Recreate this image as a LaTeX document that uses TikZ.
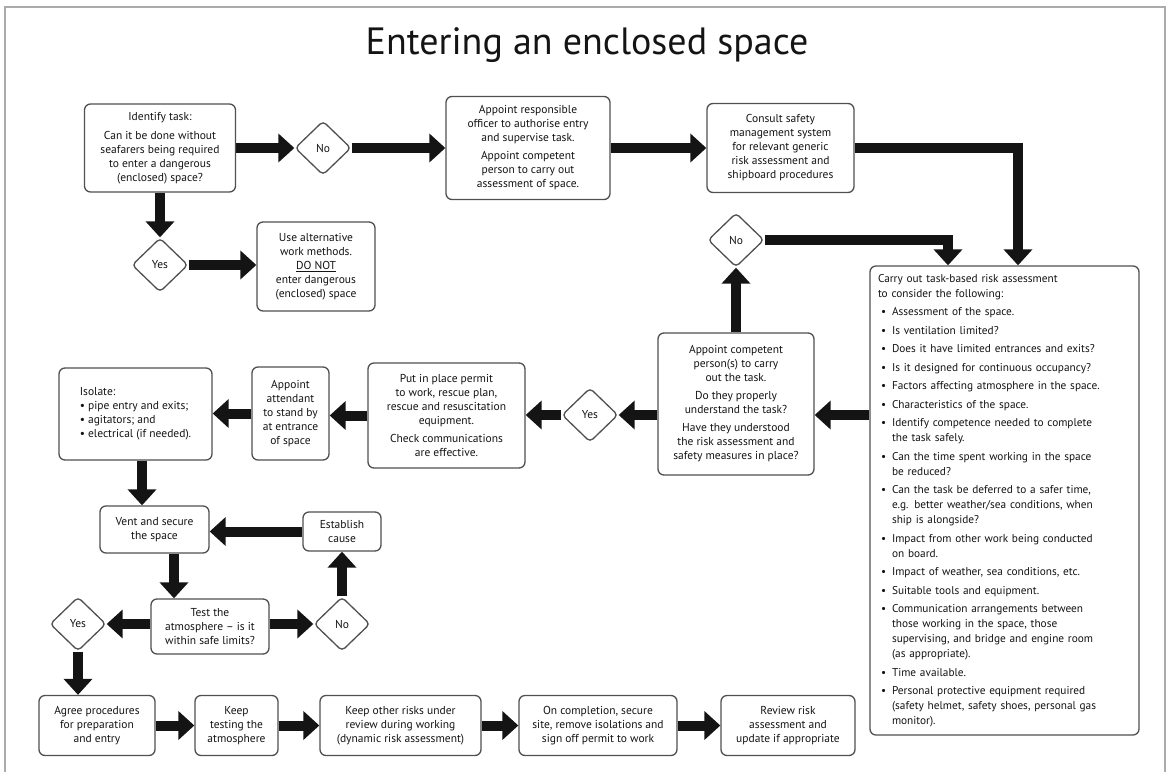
\documentclass[tikz,border=0pt]{standalone}
\usepackage{fontspec}
\setmainfont{PT Sans}
\usepackage{tikz}
\usetikzlibrary{arrows.meta,backgrounds,positioning,shapes.geometric}
\definecolor{Ink}{HTML}{141414}
\definecolor{Edge}{HTML}{505050}
\definecolor{Frame}{HTML}{ABABAB}
\newcommand{\riskpt}[1]{\par\vspace{3.5pt}\hangindent=14pt\hangafter=1\noindent\hspace*{3pt}\makebox[11pt][l]{\textbullet}#1}

\begin{document}
\begin{tikzpicture}[
  x=1pt,y=-1pt,
  box/.style={rounded corners=6pt,draw=Edge,line width=1.3pt,fill=white,align=center,inner sep=3pt,text=Ink,font=\fontsize{11.5}{14}\selectfont},
  dims/.style 2 args={minimum width=#1pt,minimum height=#2pt},
  decision/.style={diamond,rounded corners=4pt,draw=Edge,line width=1.3pt,fill=white,inner sep=0pt,minimum width=56pt,minimum height=54pt,text=Ink,font=\fontsize{11.5}{14}\selectfont},
  arrow/.style={-{Triangle[length=16pt,width=28pt]},line width=10pt,draw=Ink}
]
  \useasboundingbox (0,0) rectangle (1168,772);
  \draw[Frame,line width=2pt] (5,772) -- (5,7) -- (1165,7) -- (1165,772);
  \node[text=Ink,font=\fontsize{38}{44}\selectfont] (title) at (587,45) {Entering an enclosed space};

  % top row
  \node[box,dims={151}{88}] (task) at (160,148) {Identify task:\\[5pt]Can it be done without\\seafarers being required\\to enter a dangerous\\(enclosed) space?};
  \node[decision] (nogo) at (323,148) {No};
  \node[box,dims={164}{103}] (officer) at (528,148) {Appoint responsible\\officer to authorise entry\\and supervise task.\\[4pt]Appoint competent\\person to carry out\\assessment of space.};
  \node[box,dims={147}{89}] (consult) at (780.5,148) {Consult safety\\management system\\for relevant generic\\risk assessment and\\shipboard procedures};
  \node[decision] (yesalt) at (160,265) {Yes};
  \node[box,dims={118}{89}] (altwork) at (316,266.5) {Use alternative\\work methods.\\\underline{DO NOT}\\enter dangerous\\(enclosed) space};

  % risk assessment
  \node[decision] (norisk) at (736,240) {No};
  \node[box,dims={269}{469},text width=253pt,align=left,inner sep=8pt,font=\fontsize{11.3}{15}\selectfont] (riskbox) at (1004.5,500.5) {%
    Carry out task-based risk assessment\\to consider the following:
    \riskpt{Assessment of the space.}
    \riskpt{Is ventilation limited?}
    \riskpt{Does it have limited entrances and exits?}
    \riskpt{Is it designed for continuous occupancy?}
    \riskpt{Factors affecting atmosphere in the space.}
    \riskpt{Characteristics of the space.}
    \riskpt{Identify competence needed to complete\newline the task safely.}
    \riskpt{Can the time spent working in the space\newline be reduced?}
    \riskpt{Can the task be deferred to a safer time,\newline e.g. better weather/sea conditions, when\newline ship is alongside?}
    \riskpt{Impact from other work being conducted\newline on board.}
    \riskpt{Impact of weather, sea conditions, etc.}
    \riskpt{Suitable tools and equipment.}
    \riskpt{Communication arrangements between\newline those working in the space, those\newline supervising, and bridge and engine room\newline (as appropriate).}
    \riskpt{Time available.}
    \riskpt{Personal protective equipment required\newline (safety helmet, safety shoes, personal gas\newline monitor).}\par};

  % middle row
  \node[box,dims={156}{142}] (competent) at (736,404) {Appoint competent\\person(s) to carry\\out the task.\\[4pt]Do they properly\\understand the task?\\[4pt]Have they understood\\the risk assessment and\\safety measures in place?};
  \node[decision] (yesok) at (590,415) {Yes};
  \node[box,dims={157}{105}] (permit) at (446.5,415.5) {Put in place permit\\to work, rescue plan,\\rescue and resuscitation\\equipment.\\[4pt]Check communications\\are effective.};
  \node[box,dims={77}{93}] (attend) at (290.5,413.5) {Appoint\\attendant\\to stand by\\at entrance\\of space};
  \node[box,dims={153}{92},align=left] (isolate) at (135.5,414) {Isolate:\\\textbullet\ pipe entry and exits;\\\textbullet\ agitators; and\\\textbullet\ electrical (if needed).};

  % atmosphere loop
  \node[box,dims={109}{47}] (vent) at (154.5,529.5) {Vent and secure\\the space};
  \node[box,dims={78}{39}] (cause) at (342,531.5) {Establish\\cause};
  \node[box,dims={118}{55}] (test) at (210,626.5) {Test the\\atmosphere – is it\\within safe limits?};
  \node[decision] (nolimit) at (342,624) {No};
  \node[decision] (yeslimit) at (78,624) {Yes};

  % bottom row
  \node[box,dims={116}{60}] (agree) at (97,725.5) {Agree procedures\\for preparation\\and entry};
  \node[box,dims={83}{60}] (keeptest) at (236.5,725.5) {Keep\\testing the\\atmosphere};
  \node[box,dims={161}{60}] (review) at (400.5,725.5) {Keep other risks under\\review during working\\(dynamic risk assessment)};
  \node[box,dims={158}{60}] (signoff) at (598,725.5) {On completion, secure\\site, remove isolations and\\sign off permit to work};
  \node[box,dims={134}{60}] (update) at (788,725.5) {Review risk\\assessment and\\update if appropriate};

  \begin{scope}[on background layer]
    \draw[arrow] (task.east) -- (nogo.west);
    \draw[arrow] (nogo.east) -- (officer.west);
    \draw[arrow] (officer.east) -- (consult.west);
    \draw[arrow] (consult.east) -| ([xshift=13.5pt]riskbox.north);
    \draw[arrow] (norisk.east) -| ([xshift=-56.5pt]riskbox.north);
    \draw[arrow] (task.south) -- (yesalt.north);
    \draw[arrow] (yesalt.east) -- (yesalt.east -| altwork.west);
    \draw[arrow] (competent.north) -- (norisk.south);
    \draw[arrow] (yesok -| riskbox.west) -- (yesok -| competent.east);
    \draw[arrow] (yesok -| competent.west) -- (yesok.east);
    \draw[arrow] (yesok.west) -- (yesok -| permit.east);
    \draw[arrow] (permit.west) -- (permit.west -| attend.east);
    \draw[arrow] (attend.west) -- (attend.west -| isolate.east);
    \draw[arrow] ([xshift=6.5pt]isolate.south) -- ([xshift=6.5pt]isolate.south |- vent.north);
    \draw[arrow] (cause.west) -- (cause.west -| vent.east);
    \draw[arrow] ([xshift=19.5pt]vent.south) -- ([xshift=19.5pt]vent.south |- test.north);
    \draw[arrow] (nolimit.west -| test.east) -- (nolimit.west);
    \draw[arrow] (nolimit.north) -- (cause.south);
    \draw[arrow] (yeslimit.east -| test.west) -- (yeslimit.east);
    \draw[arrow] (yeslimit.south) -- (yeslimit.south |- agree.north);
    \draw[arrow] (agree) -- (keeptest);
    \draw[arrow] (keeptest) -- (review);
    \draw[arrow] (review) -- (signoff);
    \draw[arrow] (signoff) -- (update);
  \end{scope}
\end{tikzpicture}
\end{document}
